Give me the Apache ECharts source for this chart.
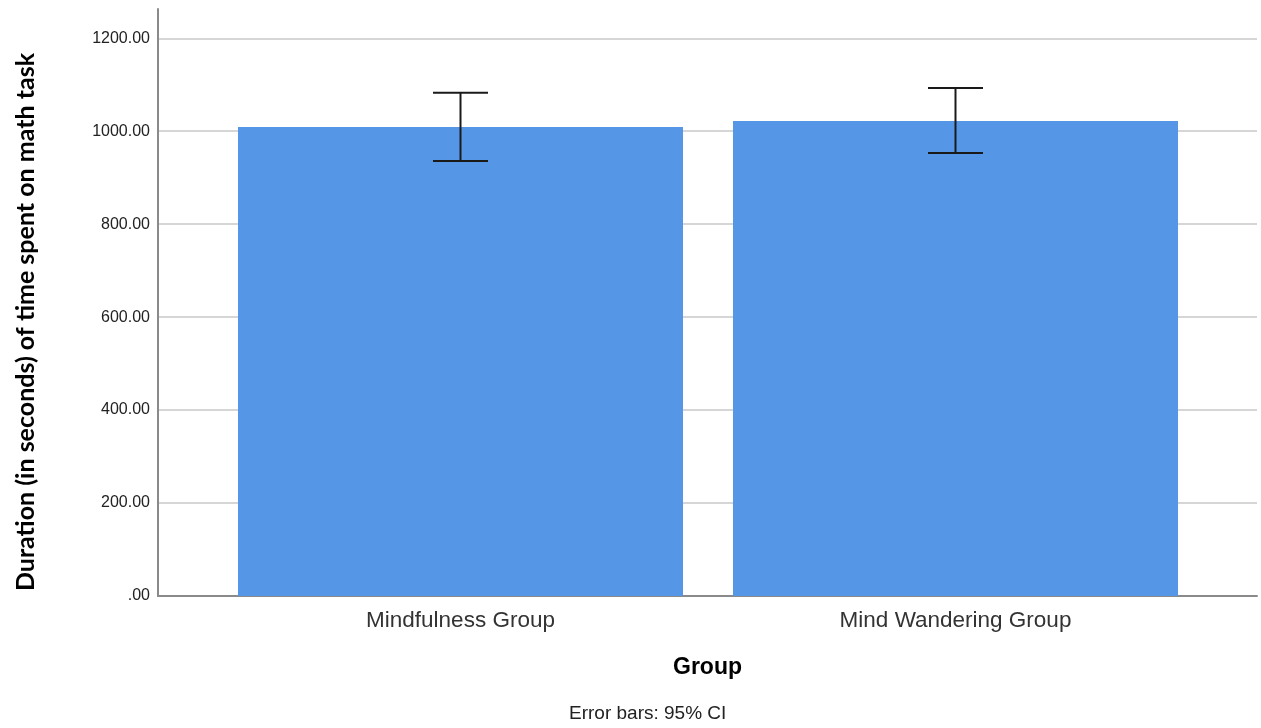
<!DOCTYPE html>
<html>
<head>
<meta charset="utf-8">
<script src="https://cdn.jsdelivr.net/npm/echarts@6/dist/echarts.min.js"></script>
<style>
  html, body { margin: 0; padding: 0; background: #fff; }
  #chart { width: 1261px; height: 728px; }
</style>
</head>
<body>
<div id="chart"></div>
<script>
// group means and 95% CI bounds
const groups = ["Mindfulness Group", "Mind Wandering Group"];
const means = [1009, 1022];
const ciLow = [936, 953];
const ciHigh = [1083, 1093];

const yMax = 1263;

const chart = echarts.init(document.getElementById("chart"));

const errorData = groups.map((g, i) => [i, ciLow[i], ciHigh[i]]);

chart.setOption({
  animation: false,
  backgroundColor: "#ffffff",
  title: {
    text: "Error bars: 95% CI",
    left: 569,
    top: 704,
    padding: 0,
    textStyle: {
      fontFamily: "Liberation Sans",
      fontSize: 19,
      fontWeight: "normal",
      color: "#222",
    },
  },
  graphic: [
    {
      type: "text",
      x: 26,
      y: 322,
      rotation: Math.PI / 2,
      style: {
        text: "Duration (in seconds) of time spent on math task",
        fontFamily: "Lato",
        fontWeight: "bold",
        fontSize: 25,
        fill: "#000",
        align: "center",
        verticalAlign: "middle",
      },
    },
  ],
  grid: [
    // frame: y axis, gridlines, x axis line
    { left: 158, right: 4, top: 9, bottom: 132 },
    // bars
    { left: 213, right: 58, top: 9, bottom: 132 },
  ],
  xAxis: [
    {
      gridIndex: 0,
      type: "category",
      data: [""],
      name: "Group",
      nameLocation: "middle",
      nameGap: 60,
      nameTextStyle: {
        fontFamily: "Liberation Sans",
        fontWeight: "bold",
        fontSize: 23,
        color: "#000",
      },
      axisLine: { show: true, lineStyle: { color: "#8a8a8a", width: 2 } },
      axisTick: { show: false },
      axisLabel: { show: false },
    },
    {
      gridIndex: 1,
      type: "category",
      data: groups,
      axisLine: { show: false },
      axisTick: { show: false },
      axisLabel: {
        margin: 13,
        fontFamily: "Liberation Sans",
        fontSize: 22.5,
        color: "#333",
      },
    },
  ],
  yAxis: [
    {
      gridIndex: 0,
      type: "value",
      min: 0,
      max: yMax,
      interval: 200,
      axisLine: { show: true, lineStyle: { color: "#8a8a8a", width: 2 } },
      axisTick: { show: false },
      axisLabel: {
        showMaxLabel: false,
        margin: 8,
        fontFamily: "Liberation Sans",
        fontSize: 16,
        color: "#222",
        formatter: (v) => (v === 0 ? ".00" : v.toFixed(2)),
      },
      splitLine: {
        show: true,
        showMaxLine: false,
        showMinLine: false,
        lineStyle: { color: "#d6d6d6", width: 2 },
      },
    },
    {
      gridIndex: 1,
      type: "value",
      min: 0,
      max: yMax,
      show: false,
      splitLine: { show: false },
    },
  ],
  series: [
    {
      type: "bar",
      xAxisIndex: 1,
      yAxisIndex: 1,
      data: means,
      barWidth: 445,
      itemStyle: { color: "#5596e6" },
      z: 2,
    },
    {
      type: "custom",
      xAxisIndex: 1,
      yAxisIndex: 1,
      data: errorData,
      z: 3,
      renderItem: (params, api) => {
        const x = api.value(0);
        const lo = api.coord([x, api.value(1)]);
        const hi = api.coord([x, api.value(2)]);
        const half = 27.5;
        const style = { stroke: "#1a1a1a", lineWidth: 2 };
        return {
          type: "group",
          children: [
            { type: "line", shape: { x1: hi[0], y1: hi[1], x2: lo[0], y2: lo[1] }, style },
            { type: "line", shape: { x1: hi[0] - half, y1: hi[1], x2: hi[0] + half, y2: hi[1] }, style },
            { type: "line", shape: { x1: lo[0] - half, y1: lo[1], x2: lo[0] + half, y2: lo[1] }, style },
          ],
        };
      },
    },
  ],
});

window.addEventListener("resize", () => chart.resize());
</script>
</body>
</html>
